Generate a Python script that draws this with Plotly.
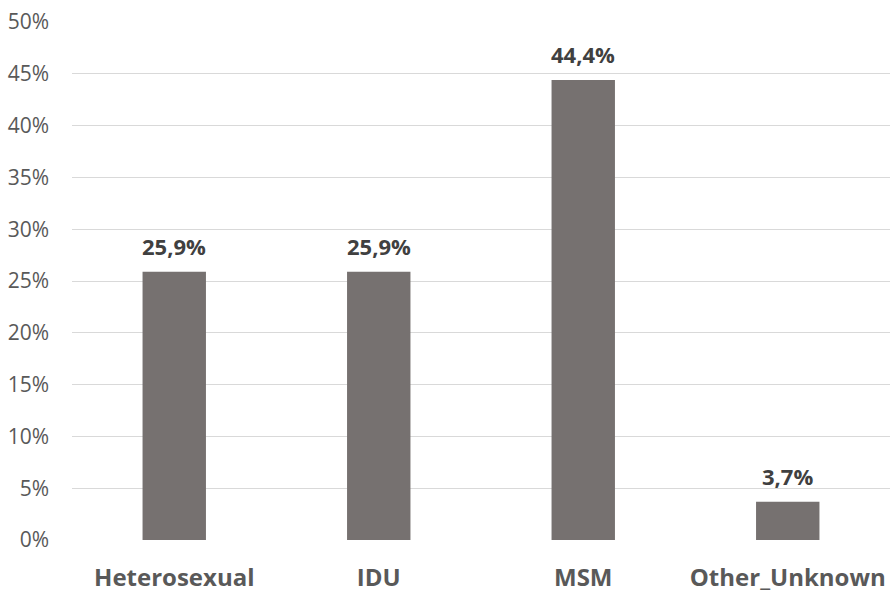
import plotly.graph_objects as go

categories = ["Heterosexual", "IDU", "MSM", "Other_Unknown"]
shares = [25.9, 25.9, 44.4, 3.7]
tick_values = [0, 5, 10, 15, 20, 25, 30, 35, 40, 45, 50]
tick_labels = [f"{v}%" for v in tick_values]

bar_color = "#767170"
font_family = "Open Sans, Noto Sans, sans-serif"

fig = go.Figure(
    go.Bar(
        x=categories,
        y=shares,
        marker=dict(color=bar_color, line=dict(width=0)),
        width=0.31,
        hoverinfo="skip",
    )
)

# value labels above each bar, with decimal comma
for cat, val in zip(categories, shares):
    fig.add_annotation(
        x=cat, y=val,
        text=f"<b>{val:.1f}%</b>".replace(".", ","),
        showarrow=False, yanchor="middle", yshift=26,
        font=dict(family=font_family, size=22, color="#404040"),
    )

fig.update_layout(
    width=892, height=593,
    margin=dict(l=72, r=2, t=22, b=53),
    paper_bgcolor="white", plot_bgcolor="white",
    showlegend=False,
    xaxis=dict(
        showgrid=False, showline=False, zeroline=False, automargin=False,
        tickfont=dict(family=font_family, size=24, color="#595959", weight="bold"),
        ticks="", ticklabelstandoff=21,
    ),
    yaxis=dict(
        range=[0, 50], tickvals=tick_values, ticktext=tick_labels,
        showgrid=True, gridcolor="#D9D9D9", gridwidth=1.3, automargin=False,
        zeroline=False, showline=False, ticks="",
        tickfont=dict(family=font_family, size=21, color="#595959"),
        ticklabelstandoff=22,
    ),
)

fig.write_html("out.html")
